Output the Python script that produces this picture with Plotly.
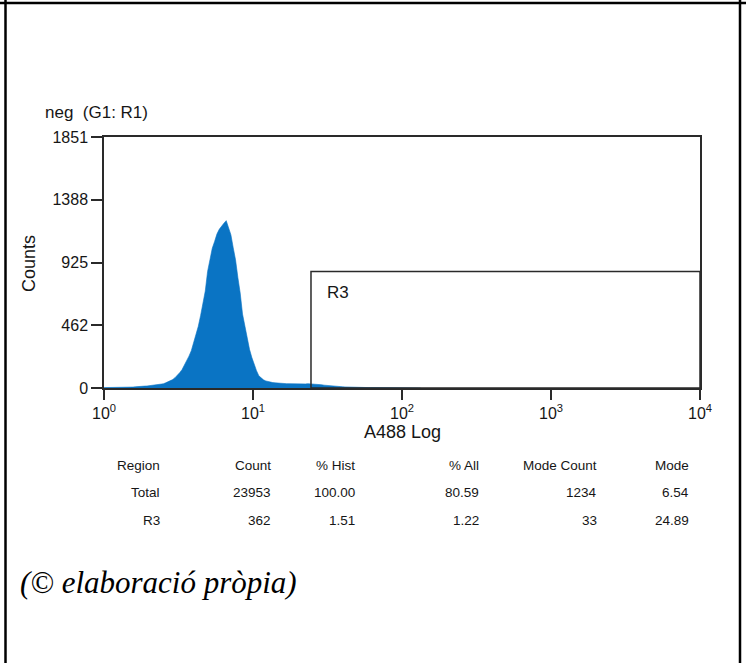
import plotly.graph_objects as go

# ---- figure geometry (pixels) ----
W, H = 746, 663
L, R, T, B = 104, 46, 137, 275
PLOT_W = W - L - R
PLOT_H = H - T - B
PLOT_BOTTOM = H - B


def px_x(px):
    """Pixel column -> paper x."""
    return (px - L) / PLOT_W


def px_y(py):
    """Pixel row -> paper y."""
    return (PLOT_BOTTOM - py) / PLOT_H


# ---- histogram data: 256 log channels over 4 decades (64 per decade) ----
CHANNELS_PER_DECADE = 64

counts_main = [
    3, 4, 4, 3, 4, 5, 4, 5, 6, 5,
    6, 7, 7, 9, 9, 11, 12, 14, 15, 17,
    18, 19, 22, 24, 27, 31, 38, 44, 52, 62,
    76, 92, 113, 135, 165, 196, 235, 275, 330, 390,
    455, 535, 630, 715, 860, 960, 1030, 1080, 1135, 1170,
    1195, 1215, 1234, 1180, 1130, 1035, 945, 815, 700, 545,
    450, 365, 285, 225, 172, 128, 90,
    72, 60, 52, 47, 43, 40, 38, 36, 35, 34, 33, 32, 32, 31, 31, 30,
    30, 30, 31, 30, 32, 31,
]
counts_r3 = [
    33, 29, 30, 25, 24, 21, 19, 16, 16, 14,
    12, 11, 10, 9, 8, 7, 7, 6, 6, 5,
    5, 4, 4, 4, 3, 3, 3, 3, 2, 2,
    2, 2, 2, 2, 1, 1, 1, 1, 1, 1,
    1, 1, 1, 1, 1, 1, 1,
]
counts = counts_main + counts_r3

# channel centres on the log axis
centres = [10 ** ((i + 0.5) / CHANNELS_PER_DECADE) for i in range(len(counts))]
xs = [1.0] + centres + [10 ** (len(counts) / CHANNELS_PER_DECADE)]
ys = [counts[0]] + counts + [0]

# ---- axes ----
Y_MAX = 1851
y_tickvals = [0, 462, 925, 1388, 1851]
x_tickvals = [1, 10, 100, 1000, 10000]
x_ticktext = ["10<sup>0</sup>", "10<sup>1</sup>", "10<sup>2</sup>",
              "10<sup>3</sup>", "10<sup>4</sup>"]

# ---- region R3 ----
R3_LOW = 24.5
R3_HIGH = 10000
R3_TOP = 860

# ---- statistics table ----
table_header = ["Region", "Count", "% Hist", "% All", "Mode Count", "Mode"]
table_rows = [
    ["Total", "23953", "100.00", "80.59", "1234", "6.54"],
    ["R3", "362", "1.51", "1.22", "33", "24.89"],
]

FONT = "Liberation Sans, Arial, Helvetica, sans-serif"
INK = "#161616"
AXIS = "#2a2a2a"
BLUE = "#0a74c4"

fig = go.Figure()
fig.add_trace(go.Scatter(
    x=xs, y=ys, mode="lines", line=dict(shape="linear", width=0.6, color=BLUE),
    fill="tozeroy", fillcolor=BLUE, hoverinfo="skip", showlegend=False,
))

fig.update_layout(
    width=W, height=H,
    margin=dict(l=L, r=R, t=T, b=B, pad=0),
    paper_bgcolor="white", plot_bgcolor="white",
    font=dict(family=FONT, color=INK),
    showlegend=False,
)
fig.update_xaxes(
    type="log", range=[0, 4],
    tickvals=x_tickvals, ticktext=x_ticktext,
    ticks="outside", ticklen=10, tickwidth=1.5, tickcolor=AXIS,
    tickfont=dict(size=16, color=INK),
    showline=True, linecolor=AXIS, linewidth=1.5, mirror=True,
    showgrid=False, zeroline=False,
)
fig.update_yaxes(
    range=[0, Y_MAX], tickvals=y_tickvals,
    ticks="outside", ticklen=11, tickwidth=1.5, tickcolor=AXIS,
    tickfont=dict(size=16, color=INK),
    showline=True, linecolor=AXIS, linewidth=1.5, mirror=True,
    showgrid=False, zeroline=False,
)

shapes = [
    # region R3 gate
    dict(type="rect", xref="x", yref="y", x0=R3_LOW, x1=R3_HIGH, y0=0, y1=R3_TOP,
         line=dict(color=AXIS, width=1.5), fillcolor="rgba(0,0,0,0)"),
    # table cell frame
    dict(type="line", xref="paper", yref="paper", x0=px_x(0), x1=px_x(W),
         y0=px_y(3), y1=px_y(3), line=dict(color="black", width=2.5)),
    dict(type="line", xref="paper", yref="paper", x0=px_x(5.5), x1=px_x(5.5),
         y0=px_y(0), y1=px_y(H), line=dict(color="black", width=2.5)),
    dict(type="line", xref="paper", yref="paper", x0=px_x(740), x1=px_x(740),
         y0=px_y(0), y1=px_y(H), line=dict(color="black", width=2.5)),
]

annotations = [
    dict(text="neg\u00a0\u00a0(G1:\u00a0R1)", xref="paper", yref="paper",
         x=px_x(43), y=px_y(112), xanchor="left", yanchor="middle",
         showarrow=False, font=dict(size=17, color=INK)),
    dict(text="Counts", xref="paper", yref="paper", textangle=-90,
         x=px_x(28.5), y=px_y(263.5), xanchor="center", yanchor="middle",
         showarrow=False, font=dict(size=18, color=INK)),
    dict(text="A488 Log", xref="paper", yref="paper",
         x=px_x(402), y=px_y(432), xanchor="center", yanchor="middle",
         showarrow=False, font=dict(size=18, color=INK)),
    dict(text="R3", xref="paper", yref="paper",
         x=px_x(325), y=px_y(292.5), xanchor="left", yanchor="middle",
         showarrow=False, font=dict(size=17, color=INK)),
    dict(text="<i>(© elaboració pròpia)</i>", xref="paper", yref="paper",
         x=px_x(18), y=px_y(582), xanchor="left", yanchor="middle",
         showarrow=False,
         font=dict(size=31, color="black",
                   family="Liberation Serif, Times New Roman, serif")),
]

col_right = [162, 273, 357, 481, 599, 691]
row_y = [465, 492, 520]
for r, row in enumerate([table_header] + table_rows):
    for c, cell in enumerate(row):
        annotations.append(dict(
            text=cell, xref="paper", yref="paper",
            x=px_x(col_right[c]), y=px_y(row_y[r]),
            xanchor="right", yanchor="middle", showarrow=False,
            font=dict(size=13.5, color=INK),
        ))

fig.update_layout(shapes=shapes, annotations=annotations)
fig.write_html("out.html")
